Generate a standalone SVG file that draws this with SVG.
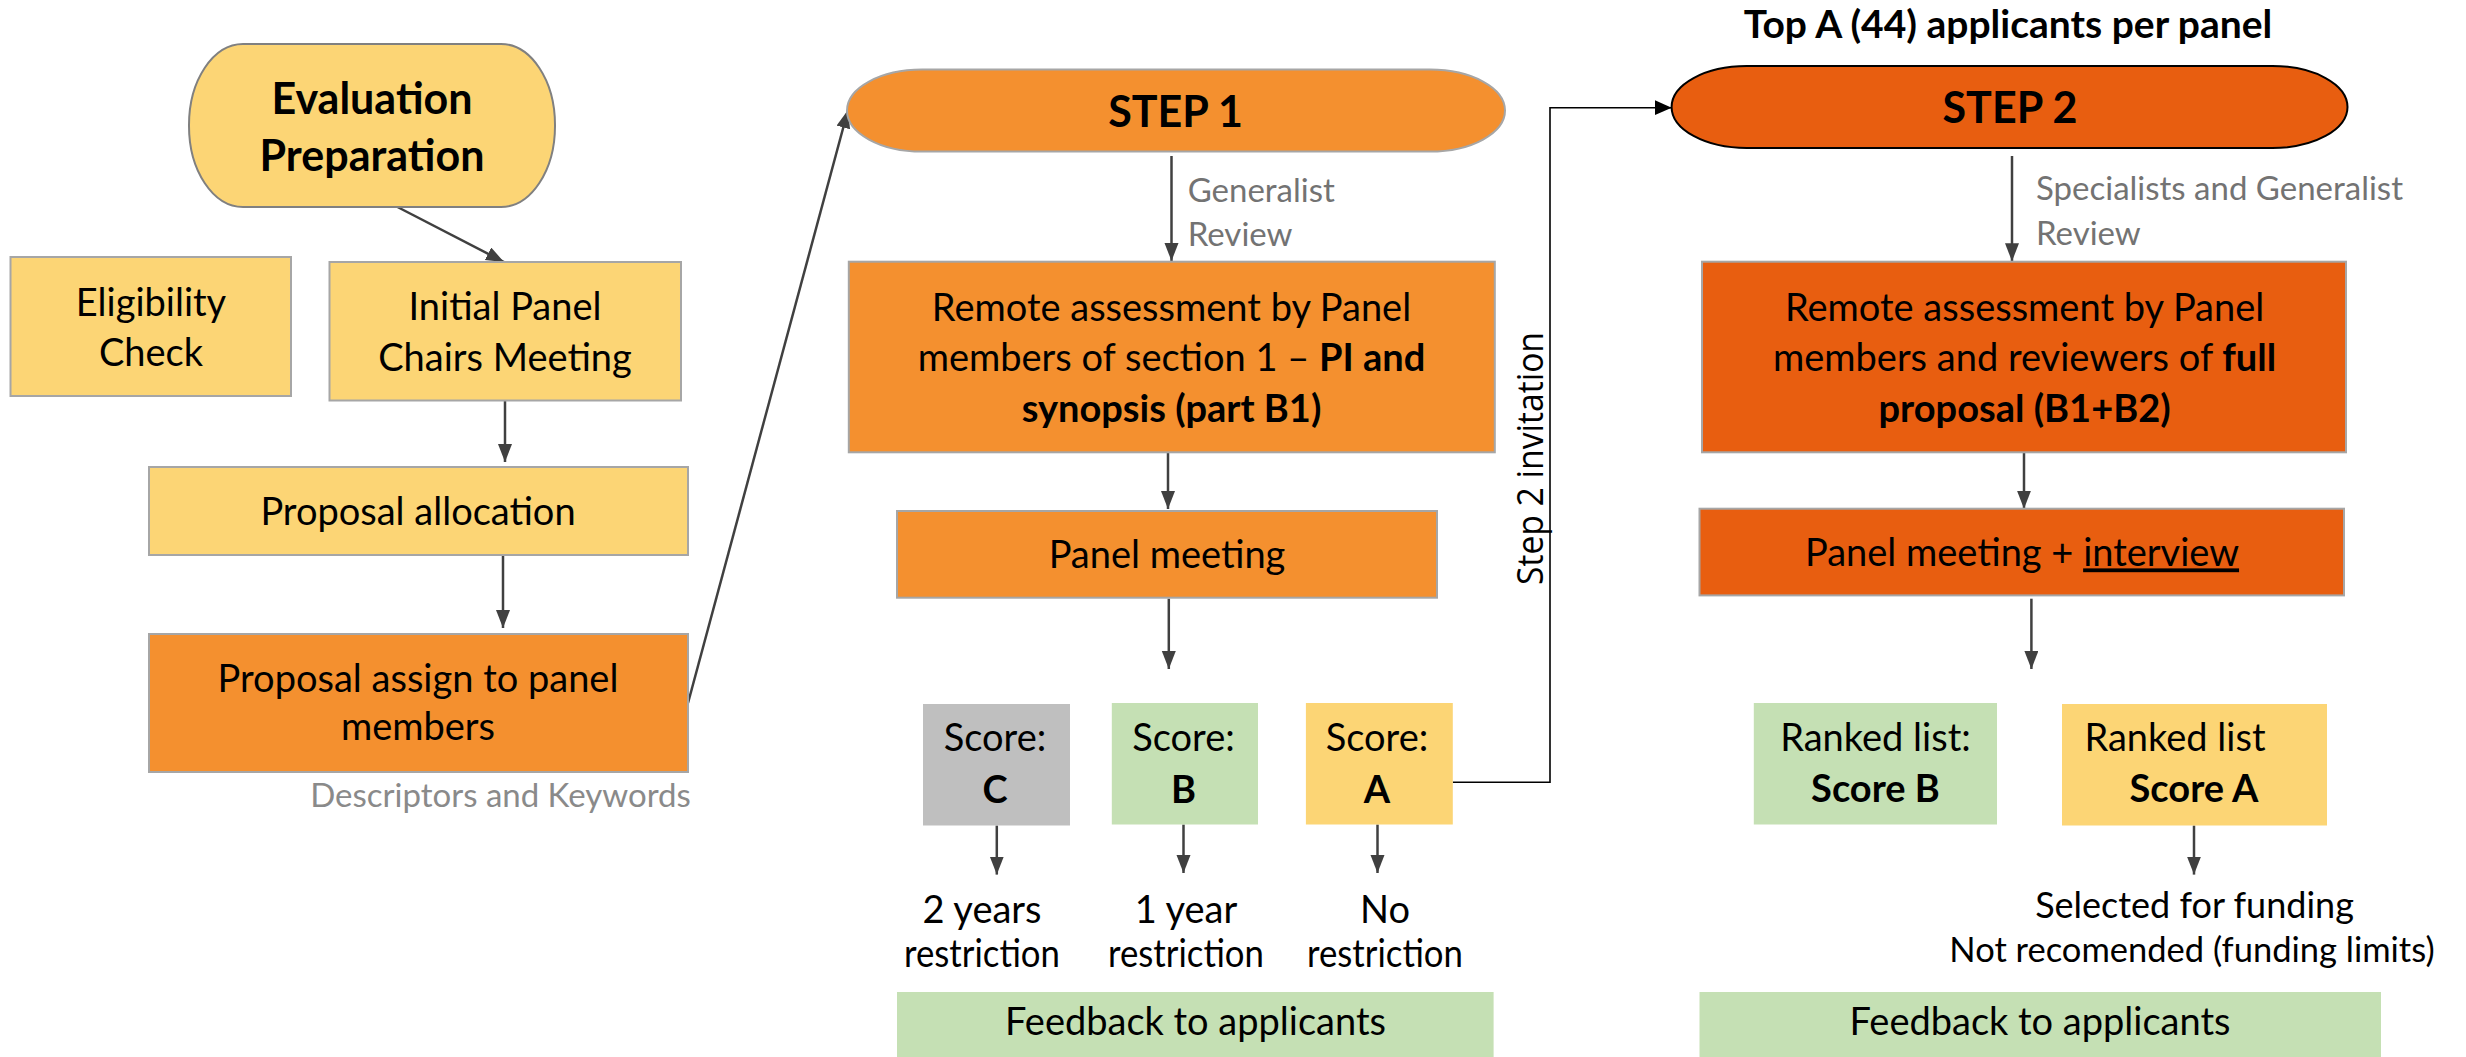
<svg xmlns="http://www.w3.org/2000/svg" width="2466" height="1057" viewBox="0 0 2466 1057">
<defs>
<marker id="ah" markerUnits="userSpaceOnUse" markerWidth="18" markerHeight="16" refX="18" refY="7" orient="auto">
<path d="M0,0 L18,7 L0,14 z" fill="#404040"/>
</marker>
<marker id="ahk" markerUnits="userSpaceOnUse" markerWidth="18" markerHeight="16" refX="17" refY="7.5" orient="auto">
<path d="M0,0 L17,7.5 L0,15 z" fill="#000"/>
</marker>
<style>
text{font-family:Lato,"Liberation Sans",sans-serif;fill:#000}
.t{font-size:38px;text-anchor:middle}
.b{font-weight:bold}
.big{font-size:43px;font-weight:bold;text-anchor:middle}
.g{font-size:33px;fill:#737373}
.yel{fill:#FCD575}
.or1{fill:#F4902F}
.or2{fill:#E85E10}
.grn{fill:#C5E0B4}
.gry{fill:#BFBFBF}
.bd{stroke:#A6A6A6;stroke-width:2}
.c{fill:none;stroke:#404040;stroke-width:2.5;marker-end:url(#ah)}
</style>
</defs>
<rect width="2466" height="1057" fill="#fff"/>

<g id="connectors">
<line class="c" x1="397.5" y1="207" x2="504" y2="262"/>
<line class="c" x1="505" y1="400.5" x2="505" y2="462"/>
<line class="c" x1="503" y1="555" x2="503" y2="628"/>
<line class="c" x1="688" y1="703" x2="848" y2="110"/>
<line class="c" x1="1171.5" y1="156" x2="1171.5" y2="261"/>
<line class="c" x1="1168" y1="452" x2="1168" y2="509"/>
<line class="c" x1="1168.8" y1="598.7" x2="1168.8" y2="669"/>
<line class="c" x1="996.8" y1="825.5" x2="996.8" y2="874.6"/>
<line class="c" x1="1183.5" y1="824.5" x2="1183.5" y2="873"/>
<line class="c" x1="1377.5" y1="824.5" x2="1377.5" y2="873"/>
<polyline points="1452.8,782.3 1550,782.3 1550,107.7 1671.7,107.7" fill="none" stroke="#000" stroke-width="1.6" marker-end="url(#ahk)"/>
<line class="c" x1="2012" y1="156" x2="2012" y2="261.3"/>
<line class="c" x1="2024" y1="452" x2="2024" y2="508.7"/>
<line class="c" x1="2031.4" y1="598.7" x2="2031.4" y2="669"/>
<line class="c" x1="2194" y1="825.5" x2="2194" y2="874.6"/>
<text transform="translate(1542.5,458.5) rotate(-90)" font-size="36" text-anchor="middle" textLength="253" lengthAdjust="spacingAndGlyphs" style="font-family:'Open Sans',sans-serif">Step 2 invitation</text>
<text class="g" x="500.5" y="807" text-anchor="middle" style="fill:#8a8a8a">Descriptors and Keywords</text>
<text class="g" x="1187.7" y="201.7">Generalist</text>
<text class="g" x="1187.7" y="245.6">Review</text>
<text class="g" x="2036" y="200">Specialists and Generalist</text>
<text class="g" x="2036" y="244.5">Review</text>
</g>

<g id="eval-prep">
<rect class="yel" x="189" y="44" width="366" height="163" rx="54" ry="81" stroke="#808080" stroke-width="2"/>
<text class="big" x="372" y="113.5">Evaluation</text>
<text class="big" x="372" y="170.6">Preparation</text>
</g>
<g id="eligibility">
<rect class="yel bd" x="10.5" y="257" width="280.5" height="139"/>
<text class="t" x="151" y="316">Eligibility</text>
<text class="t" x="151" y="366">Check</text>
</g>
<g id="initial-panel">
<rect class="yel bd" x="329.5" y="262" width="351.5" height="138.5"/>
<text class="t" x="505" y="319.5">Initial Panel</text>
<text class="t" x="505" y="371">Chairs Meeting</text>
</g>
<g id="proposal-allocation">
<rect class="yel bd" x="149" y="467" width="539" height="88"/>
<text class="t" x="418" y="525">Proposal allocation</text>
</g>
<g id="proposal-assign">
<rect class="or1 bd" x="149" y="634" width="539" height="138"/>
<text class="t" x="418" y="691.7">Proposal assign to panel</text>
<text class="t" x="418" y="740">members</text>
</g>

<g id="step1">
<rect class="or1" x="847" y="69.6" width="658" height="82" rx="75" ry="41" stroke="#A6A6A6" stroke-width="2"/>
<text class="big" x="1175.6" y="126.7">STEP 1</text>
</g>
<g id="remote1">
<rect class="or1 bd" x="848.8" y="261.7" width="646" height="190.6"/>
<text class="t" x="1171.5" y="320.6">Remote assessment by Panel</text>
<text class="t" x="1171.5" y="371">members of section 1 – <tspan class="b">PI and</tspan></text>
<text class="t b" x="1171.5" y="422">synopsis (part B1)</text>
</g>
<g id="panel1">
<rect class="or1 bd" x="897" y="511" width="540" height="86.7"/>
<text class="t" x="1167" y="568">Panel meeting</text>
</g>
<g id="scoreC">
<rect class="gry" x="923" y="704" width="147" height="121.5"/>
<text class="t" x="995" y="751">Score:</text>
<text class="t b" x="995" y="803">C</text>
</g>
<g id="scoreB">
<rect class="grn" x="1111.8" y="703" width="146.2" height="121.5"/>
<text class="t" x="1183.5" y="751">Score:</text>
<text class="t b" x="1183.5" y="803">B</text>
</g>
<g id="scoreA">
<rect class="yel" x="1305.9" y="703" width="146.9" height="121.5"/>
<text class="t" x="1377" y="751">Score:</text>
<text class="t b" x="1377" y="803">A</text>
</g>
<g id="restr2">
<text class="t" x="982" y="922.5">2 years</text>
<text class="t" x="982" y="967" textLength="156" lengthAdjust="spacingAndGlyphs">restriction</text>
</g>
<g id="restr1">
<text class="t" x="1186" y="922.5">1 year</text>
<text class="t" x="1186" y="967" textLength="156" lengthAdjust="spacingAndGlyphs">restriction</text>
</g>
<g id="restr0">
<text class="t" x="1385" y="922.5">No</text>
<text class="t" x="1385" y="967" textLength="156" lengthAdjust="spacingAndGlyphs">restriction</text>
</g>
<g id="feedback1">
<rect class="grn" x="897" y="992" width="596.6" height="65"/>
<text class="t" x="1195.5" y="1034.5">Feedback to applicants</text>
</g>

<g id="top-label">
<text x="2008" y="37.5" font-size="39" font-weight="bold" text-anchor="middle">Top A (44) applicants per panel</text>
</g>
<g id="step2">
<rect class="or2" x="1671.6" y="66" width="675.9" height="82" rx="75" ry="41" stroke="#000" stroke-width="2"/>
<text class="big" x="2010" y="123">STEP 2</text>
</g>
<g id="remote2">
<rect class="or2 bd" x="1702" y="261.7" width="644" height="190.6"/>
<text class="t" x="2024.6" y="320.6">Remote assessment by Panel</text>
<text class="t" x="2024.6" y="371">members and reviewers of <tspan class="b">full</tspan></text>
<text class="t b" x="2024.6" y="422">proposal (B1+B2)</text>
</g>
<g id="panel2">
<rect class="or2 bd" x="1699.5" y="508.7" width="644.5" height="86.7"/>
<text class="t" x="2022" y="566.4">Panel meeting + <tspan text-decoration="underline" style="text-decoration:underline">interview</tspan></text>
</g>
<g id="rankedB">
<rect class="grn" x="1753.8" y="703" width="243.2" height="121.5"/>
<text class="t" x="1875.5" y="751">Ranked list:</text>
<text class="t b" x="1875.5" y="802">Score B</text>
</g>
<g id="rankedA">
<rect class="yel" x="2062" y="704" width="265" height="121.5"/>
<text class="t" x="2175" y="751">Ranked list</text>
<text class="t b" x="2194" y="802">Score A</text>
</g>
<g id="outcome">
<text class="t" x="2194.5" y="917.5" font-size="36" style="font-size:36px">Selected for funding</text>
<text class="t" x="2192" y="962" style="font-size:34.5px">Not recomended (funding limits)</text>
</g>
<g id="feedback2">
<rect class="grn" x="1699.5" y="992" width="681.5" height="65"/>
<text class="t" x="2040" y="1034.5">Feedback to applicants</text>
</g>
</svg>
